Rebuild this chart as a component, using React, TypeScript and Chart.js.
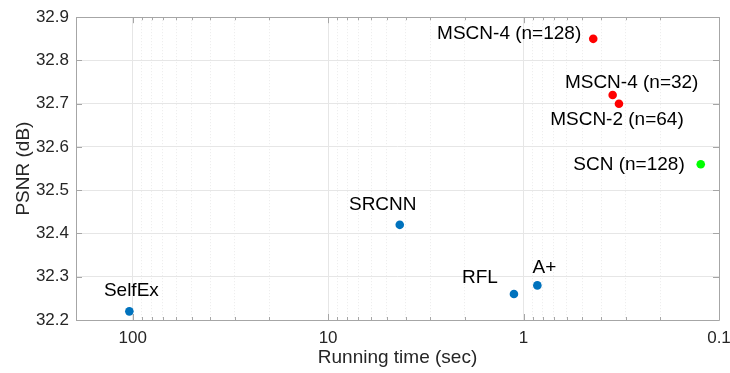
import React, { useEffect, useRef } from "react";
import { Chart, registerables } from "chart.js";

Chart.register(...registerables);

// ---- data ----
const methodNames = [
  "SelfEx",
  "SRCNN",
  "RFL",
  "A+",
  "MSCN-4 (n=128)",
  "MSCN-4 (n=32)",
  "MSCN-2 (n=64)",
  "SCN (n=128)",
];
const runningTimes = [104, 4.3, 1.12, 0.85, 0.44, 0.35, 0.325, 0.124];
const psnrValues = [32.22, 32.42, 32.26, 32.28, 32.85, 32.72, 32.7, 32.56];
const methodGroups = ["base", "base", "base", "base", "mscn", "mscn", "mscn", "scn"];
const yTickValues = [32.2, 32.3, 32.4, 32.5, 32.6, 32.7, 32.8, 32.9];
const xMajorTicks = [0.1, 1, 10, 100];
const xMin = 0.1;
const xMax = 195;

// ---- styles (not data) ----
const groupColors: Record<string, string> = {
  base: "#0072BD",
  mscn: "#FF0000",
  scn: "#00FF00",
};
// label placement relative to the point: [dx, dy, align]
const labelPlacement: Array<[number, number, CanvasTextAlign]> = [
  [2, -21, "center"],
  [-17, -20, "center"],
  [-34, -16, "center"],
  [7, -18, "center"],
  [-12, -5, "right"],
  [19, -12, "center"],
  [-2, 16, "center"],
  [-16, 0, "right"],
];

const FONT = "'Liberation Sans', Arial, Helvetica, sans-serif";
const AXIS_COLOR = "#a6a6a6";

function buildXTicks() {
  const vals: number[] = [];
  for (let e = -1; e <= 2; e++) {
    for (let m = 1; m <= 9; m++) {
      const v = parseFloat((m * Math.pow(10, e)).toPrecision(3));
      if (v >= xMin && v <= xMax) vals.push(v);
    }
  }
  return vals;
}
const isMajor = (v: number) => xMajorTicks.some((t) => Math.abs(t - v) < 1e-9);

const boxPlugin = {
  id: "boxAndLabels",
  afterDatasetsDraw(chart: any) {
    const { ctx, chartArea: a } = chart;
    const xs = chart.scales.x;
    const ys = chart.scales.y;
    ctx.save();
    // box
    ctx.strokeStyle = AXIS_COLOR;
    ctx.lineWidth = 1;
    ctx.beginPath();
    ctx.rect(Math.round(a.left) + 0.5, Math.round(a.top) + 0.5, Math.round(a.right - a.left), Math.round(a.bottom - a.top));
    ctx.stroke();
    // inward ticks on x (bottom and top)
    ctx.beginPath();
    for (const t of xs.ticks) {
      const px = Math.round(xs.getPixelForValue(t.value)) + 0.5;
      const len = isMajor(t.value) ? 6 : 3;
      ctx.moveTo(px, a.bottom);
      ctx.lineTo(px, a.bottom - len);
      ctx.moveTo(px, a.top);
      ctx.lineTo(px, a.top + len);
    }
    // inward ticks on y (left and right)
    for (const t of ys.ticks) {
      const py = Math.round(ys.getPixelForValue(t.value)) + 0.5;
      ctx.moveTo(a.left, py);
      ctx.lineTo(a.left + 6, py);
      ctx.moveTo(a.right, py);
      ctx.lineTo(a.right - 6, py);
    }
    ctx.stroke();

    // point labels
    const meta = chart.getDatasetMeta(0);
    ctx.fillStyle = "#000000";
    ctx.font = `19px ${FONT}`;
    ctx.textBaseline = "middle";
    meta.data.forEach((el: any, i: number) => {
      const [dx, dy, align] = labelPlacement[i];
      ctx.textAlign = align;
      ctx.fillText(methodNames[i], el.x + dx, el.y + dy);
    });
    ctx.restore();
  },
};

export default function App() {
  const ref = useRef<HTMLCanvasElement | null>(null);
  useEffect(() => {
    document.body.style.margin = "0";
    const canvas = ref.current!;
    const xTickVals = buildXTicks();
    const chart = new Chart(canvas, {
      type: "scatter",
      data: {
        datasets: [
          {
            data: runningTimes.map((t, i) => ({ x: t, y: psnrValues[i] })),
            pointBackgroundColor: methodGroups.map((g) => groupColors[g]),
            pointBorderColor: methodGroups.map((g) => groupColors[g]),
            pointRadius: 4.3,
            pointBorderWidth: 0,
          },
        ],
      },
      options: {
        animation: false,
        responsive: false,
        events: [],
        layout: { padding: { top: 12, right: 11, left: 0, bottom: 0 } },
        plugins: { legend: { display: false }, tooltip: { enabled: false } },
        scales: {
          x: {
            type: "logarithmic",
            reverse: true,
            min: xMin,
            max: xMax,
            afterBuildTicks: (scale: any) => {
              scale.ticks = xTickVals.map((v) => ({ value: v, major: isMajor(v) }));
            },
            afterFit: (scale: any) => {
              scale.height = 53;
            },
            ticks: {
              autoSkip: false,
              maxRotation: 0,
              padding: 8,
              color: "#262626",
              font: { family: FONT, size: 17 },
              callback: (v: any) => (isMajor(Number(v)) ? String(Number(v)) : ""),
            },
            grid: {
              drawTicks: false,
              color: (c: any) => (c.tick && c.tick.major ? "#e6e6e6" : "#ebebeb"),
              lineWidth: 1,
            },
            border: {
              display: false,
              dash: (c: any) => (c.tick && c.tick.major ? [] : [1, 2]),
            },
            title: {
              display: true,
              text: "Running time (sec)",
              color: "#262626",
              font: { family: FONT, size: 19 },
              padding: { top: 0, bottom: 4 },
            },
          },
          y: {
            min: 32.2,
            max: 32.9,
            afterBuildTicks: (scale: any) => {
              scale.ticks = yTickValues.map((v) => ({ value: v }));
            },
            afterFit: (scale: any) => {
              scale.width = 76;
            },
            ticks: {
              padding: 7,
              color: "#262626",
              font: { family: FONT, size: 17 },
              callback: (v: any) => Number(v).toFixed(1),
            },
            grid: { drawTicks: false, color: "#e6e6e6", lineWidth: 1 },
            border: { display: false },
            title: {
              display: true,
              text: "PSNR (dB)",
              color: "#262626",
              font: { family: FONT, size: 19 },
              padding: { top: 12, bottom: 0 },
            },
          },
        },
      },
      plugins: [boxPlugin],
    });
    return () => chart.destroy();
  }, []);
  return (
    <div style={{ width: 730, height: 373, background: "#ffffff" }}>
      <canvas ref={ref} width={730} height={373} style={{ display: "block" }} />
    </div>
  );
}
